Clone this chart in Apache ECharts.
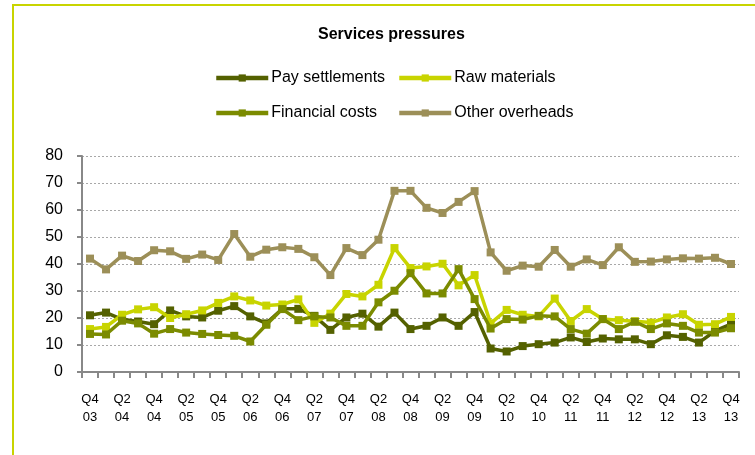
<!DOCTYPE html>
<html>
<head>
<meta charset="utf-8">
<script src="https://cdn.jsdelivr.net/npm/echarts@6/dist/echarts.min.js"></script>
<style>
  html, body { margin: 0; padding: 0; background: #fff; }
  #chart { width: 755px; height: 455px; }
</style>
</head>
<body>
<div id="chart"></div>
<script>
// Quarterly categories, Q4 2003 to Q4 2013
const quarters = [
  'Q4 03','Q1 04','Q2 04','Q3 04','Q4 04','Q1 05','Q2 05','Q3 05','Q4 05',
  'Q1 06','Q2 06','Q3 06','Q4 06','Q1 07','Q2 07','Q3 07','Q4 07',
  'Q1 08','Q2 08','Q3 08','Q4 08','Q1 09','Q2 09','Q3 09','Q4 09',
  'Q1 10','Q2 10','Q3 10','Q4 10','Q1 11','Q2 11','Q3 11','Q4 11',
  'Q1 12','Q2 12','Q3 12','Q4 12','Q1 13','Q2 13','Q3 13','Q4 13'
];

const seriesNames = ['Pay settlements', 'Raw materials', 'Financial costs', 'Other overheads'];

const paySettlements = [
  21, 22, 19.5, 18.7, 17.7, 22.8, 20.6, 20.2, 22.7,
  24.4, 20.6, 18, 23.4, 23.4, 20.8, 15.6, 20.2,
  21.6, 16.8, 22, 15.9, 17.1, 20.2, 17.1, 22.2,
  8.7, 7.6, 9.6, 10.3, 10.9, 12.8, 11.1, 12.4,
  12.1, 12.1, 10.3, 13.6, 13, 10.9, 15.2, 17.7
];

const rawMaterials = [
  15.9, 16.7, 21.2, 23.2, 24, 20, 21.4, 22.8, 25.6,
  28, 26.5, 24.6, 25, 26.9, 18.2, 21.6, 28.9,
  28, 32.3, 45.9, 38.5, 39.1, 40.1, 32.1, 35.9,
  18, 23, 21.2, 20.6, 27.2, 18.9, 23.3, 19.6,
  19.2, 18.8, 18.3, 20.2, 21.4, 17.5, 17.7, 20.4
];

const financialCosts = [
  14.1, 13.9, 19, 18, 14.2, 15.9, 14.6, 14.1, 13.7,
  13.4, 11.3, 17.5, 23.3, 19.2, 20.6, 20.2, 17.1,
  17.1, 25.8, 30.1, 36.6, 29.1, 29.1, 38.1, 27,
  16.1, 19.6, 19.4, 20.8, 20.6, 15.9, 14.2, 19.6,
  15.9, 18.6, 15.9, 18, 17.1, 14.6, 14.6, 16.2
];

const otherOverheads = [
  42, 38, 43.1, 41.1, 45.1, 44.7, 41.9, 43.5, 41.5,
  51.1, 42.7, 45.3, 46.2, 45.6, 42.5, 35.9, 45.9,
  43.3, 49, 67.1, 67.1, 60.8, 58.9, 63, 67,
  44.3, 37.5, 39.4, 39, 45.2, 39, 41.7, 39.6,
  46.2, 40.8, 40.9, 41.7, 42.1, 42, 42.3, 40
];

const yTicks = [0, 10, 20, 30, 40, 50, 60, 70, 80];

const colors = ['#546100', '#c8d400', '#7b8b00', '#9c8f58'];
const values = [paySettlements, rawMaterials, financialCosts, otherOverheads];

const FONT = '"Liberation Sans", Arial, sans-serif';

const chart = echarts.init(document.getElementById('chart'), null, { renderer: 'canvas' });

const legendSpot = [[214, 70], [397, 70], [214, 105], [397, 105]];

chart.setOption({
  animation: false,
  backgroundColor: '#ffffff',
  textStyle: { fontFamily: FONT },
  graphic: [{
    type: 'rect',
    shape: { x: 13, y: 5, width: 800, height: 500 },
    style: { fill: 'none', stroke: '#c8d400', lineWidth: 2 },
    silent: true
  }],
  title: {
    text: 'Services pressures',
    left: 318,
    top: 27,
    padding: 0,
    textStyle: { fontFamily: FONT, fontSize: 16, fontWeight: 'bold', color: '#000' }
  },
  legend: seriesNames.map((name, i) => ({
    data: [name],
    left: legendSpot[i][0],
    top: legendSpot[i][1],
    padding: 0,
    itemWidth: 52,
    itemHeight: 9,
    selectedMode: false,
    lineStyle: { width: 4.5 },
    textStyle: { fontFamily: FONT, fontSize: 16, color: '#000', padding: [0, 0, 0, -2] }
  })),
  grid: { left: 82, right: 16, top: 156, bottom: 83, containLabel: false },
  xAxis: {
    type: 'category',
    data: quarters,
    boundaryGap: true,
    axisLine: { lineStyle: { color: '#888888', width: 2 } },
    axisTick: { show: true, interval: 0, length: 6, lineStyle: { color: '#888888', width: 2 } },
    axisLabel: {
      interval: 1,
      margin: 18,
      fontFamily: FONT,
      fontSize: 13,
      lineHeight: 18,
      color: '#000',
      formatter: v => v.replace(' ', '\n')
    }
  },
  yAxis: {
    type: 'value',
    min: yTicks[0],
    max: yTicks[yTicks.length - 1],
    interval: yTicks[1] - yTicks[0],
    axisLine: { show: true, lineStyle: { color: '#888888', width: 2 } },
    axisTick: { show: true, length: 5, lineStyle: { color: '#888888', width: 2 } },
    axisLabel: { margin: 19, fontFamily: FONT, fontSize: 16, color: '#000' },
    splitLine: { show: true, lineStyle: { color: '#a8a8a8', type: [2, 2], width: 1 } }
  },
  series: seriesNames.map((name, i) => ({
    name: name,
    type: 'line',
    data: values[i],
    symbol: 'rect',
    symbolSize: 8,
    showSymbol: true,
    lineStyle: { color: colors[i], width: 3.5 },
    itemStyle: { color: colors[i] },
    z: 2 + i
  }))
});
</script>
</body>
</html>
